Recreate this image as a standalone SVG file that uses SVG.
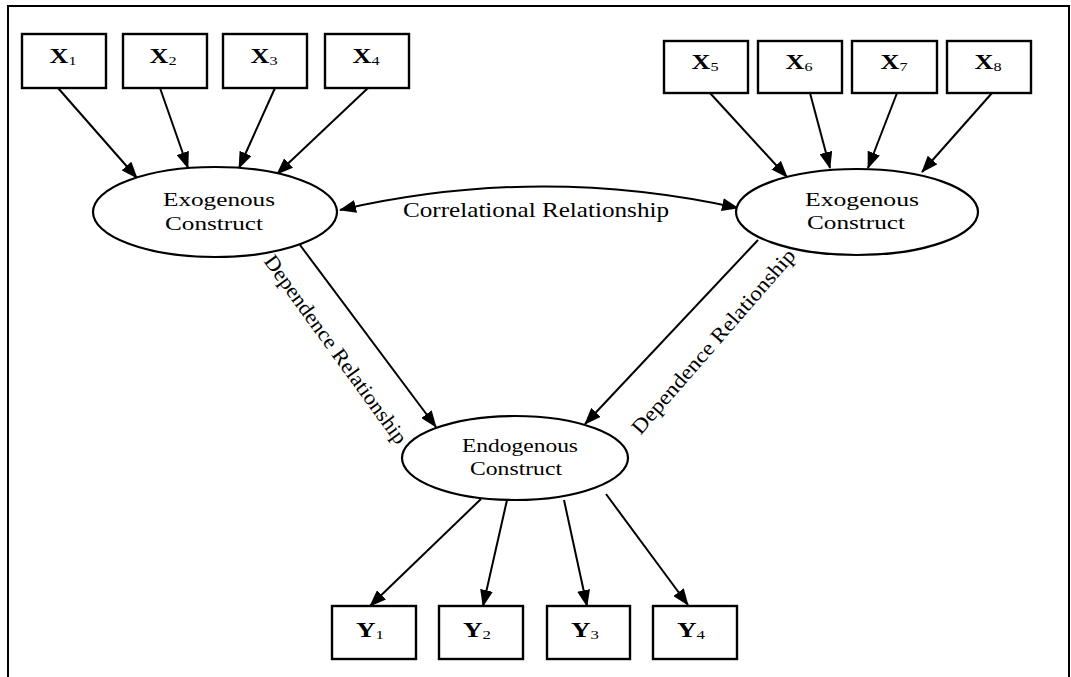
<svg xmlns="http://www.w3.org/2000/svg" width="1071" height="677" viewBox="0 0 1071 677">
  <style>
    .box { fill: #fff; stroke: #000; stroke-width: 2.4; }
    .ell { fill: #fff; stroke: #000; stroke-width: 2.2; }
    .var { font-family: "Liberation Serif", "Times New Roman", serif; font-size: 21px; font-weight: bold; fill: #000; text-anchor: middle; }
    .sub { font-size: 13px; font-weight: normal; }
    .txt { font-family: "Liberation Serif", "Times New Roman", serif; font-size: 21px; fill: #000; text-anchor: middle; }
    .con { font-size: 18.5px; }
    .edge { fill: none; stroke: #000; stroke-width: 2; }
  </style>
  <defs>
    <marker id="arrow" markerUnits="userSpaceOnUse" markerWidth="17" markerHeight="13" viewBox="0 0 17 13" refX="16" refY="6.5" orient="auto-start-reverse">
      <path d="M0,0 L17,6.5 L0,13 z" fill="#000"/>
    </marker>
  </defs>

  <rect width="1071" height="677" fill="#fff"/>
  <!-- outer frame -->
  <path d="M8,677 L8,6 L1069,6 L1069,677" fill="none" stroke="#000" stroke-width="2"/>

  <!-- connectors -->
  <g id="connectors">
    <line class="edge" x1="58" y1="88" x2="137" y2="178" marker-end="url(#arrow)"/>
    <line class="edge" x1="160" y1="88" x2="188" y2="168" marker-end="url(#arrow)"/>
    <line class="edge" x1="275" y1="88" x2="239" y2="168" marker-end="url(#arrow)"/>
    <line class="edge" x1="368" y1="88" x2="277" y2="174" marker-end="url(#arrow)"/>

    <line class="edge" x1="710" y1="93" x2="787" y2="177" marker-end="url(#arrow)"/>
    <line class="edge" x1="810" y1="93" x2="830" y2="168" marker-end="url(#arrow)"/>
    <line class="edge" x1="897" y1="93" x2="868" y2="168" marker-end="url(#arrow)"/>
    <line class="edge" x1="992" y1="93" x2="922" y2="172" marker-end="url(#arrow)"/>

    <path class="edge" d="M340,210 Q539,164 738,208" marker-start="url(#arrow)" marker-end="url(#arrow)"/>

    <line class="edge" x1="300" y1="245" x2="436" y2="427" marker-end="url(#arrow)"/>
    <line class="edge" x1="758" y1="240" x2="585" y2="424" marker-end="url(#arrow)"/>

    <line class="edge" x1="481" y1="499" x2="370" y2="606" marker-end="url(#arrow)"/>
    <line class="edge" x1="507" y1="500" x2="483" y2="606" marker-end="url(#arrow)"/>
    <line class="edge" x1="564" y1="500" x2="587" y2="606" marker-end="url(#arrow)"/>
    <line class="edge" x1="606" y1="494" x2="688" y2="605" marker-end="url(#arrow)"/>

    <text class="txt" x="536" y="217" textLength="266" lengthAdjust="spacingAndGlyphs">Correlational Relationship</text>
    <text class="txt" font-size="19" transform="translate(335,350) rotate(54)" y="6" textLength="228" lengthAdjust="spacingAndGlyphs">Dependence Relationship</text>
    <text class="txt" font-size="19" transform="translate(714,342) rotate(-49)" y="6" textLength="238" lengthAdjust="spacingAndGlyphs">Dependence Relationship</text>
  </g>

  <!-- indicator boxes, left construct -->
  <g id="x1"><rect class="box" x="22" y="34" width="84" height="54"/><text class="var" x="63" y="63" textLength="27" lengthAdjust="spacingAndGlyphs">X<tspan class="sub" dy="2">1</tspan></text></g>
  <g id="x2"><rect class="box" x="123" y="34" width="84" height="54"/><text class="var" x="163" y="63" textLength="27" lengthAdjust="spacingAndGlyphs">X<tspan class="sub" dy="2">2</tspan></text></g>
  <g id="x3"><rect class="box" x="223" y="34" width="84" height="54"/><text class="var" x="264" y="63" textLength="27" lengthAdjust="spacingAndGlyphs">X<tspan class="sub" dy="2">3</tspan></text></g>
  <g id="x4"><rect class="box" x="325" y="34" width="84" height="54"/><text class="var" x="366" y="63" textLength="27" lengthAdjust="spacingAndGlyphs">X<tspan class="sub" dy="2">4</tspan></text></g>

  <!-- indicator boxes, right construct -->
  <g id="x5"><rect class="box" x="664" y="41" width="84" height="52"/><text class="var" x="705" y="69" textLength="27" lengthAdjust="spacingAndGlyphs">X<tspan class="sub" dy="2">5</tspan></text></g>
  <g id="x6"><rect class="box" x="758" y="41" width="84" height="52"/><text class="var" x="799" y="69" textLength="27" lengthAdjust="spacingAndGlyphs">X<tspan class="sub" dy="2">6</tspan></text></g>
  <g id="x7"><rect class="box" x="852" y="41" width="85" height="52"/><text class="var" x="894" y="69" textLength="27" lengthAdjust="spacingAndGlyphs">X<tspan class="sub" dy="2">7</tspan></text></g>
  <g id="x8"><rect class="box" x="947" y="41" width="84" height="52"/><text class="var" x="988" y="69" textLength="27" lengthAdjust="spacingAndGlyphs">X<tspan class="sub" dy="2">8</tspan></text></g>

  <!-- constructs -->
  <g id="exo-left">
    <ellipse class="ell" cx="215" cy="212" rx="122" ry="45"/>
    <text class="txt con" x="219" y="206" textLength="112" lengthAdjust="spacingAndGlyphs">Exogenous</text>
    <text class="txt con" x="214" y="230" textLength="98" lengthAdjust="spacingAndGlyphs">Construct</text>
  </g>
  <g id="exo-right">
    <ellipse class="ell" cx="857" cy="212" rx="121" ry="43"/>
    <text class="txt con" x="862" y="206" textLength="114" lengthAdjust="spacingAndGlyphs">Exogenous</text>
    <text class="txt con" x="856" y="229" textLength="98" lengthAdjust="spacingAndGlyphs">Construct</text>
  </g>
  <g id="endo">
    <ellipse class="ell" cx="515" cy="458" rx="113" ry="42"/>
    <text class="txt con" x="520" y="452" textLength="116" lengthAdjust="spacingAndGlyphs">Endogenous</text>
    <text class="txt con" x="516" y="475" textLength="92" lengthAdjust="spacingAndGlyphs">Construct</text>
  </g>

  <!-- outcome boxes -->
  <g id="y1"><rect class="box" x="332" y="606" width="84" height="53"/><text class="var" x="370" y="637" textLength="28" lengthAdjust="spacingAndGlyphs">Y<tspan class="sub" dy="2">1</tspan></text></g>
  <g id="y2"><rect class="box" x="439" y="606" width="84" height="53"/><text class="var" x="477" y="637" textLength="28" lengthAdjust="spacingAndGlyphs">Y<tspan class="sub" dy="2">2</tspan></text></g>
  <g id="y3"><rect class="box" x="547" y="606" width="83" height="53"/><text class="var" x="585" y="637" textLength="28" lengthAdjust="spacingAndGlyphs">Y<tspan class="sub" dy="2">3</tspan></text></g>
  <g id="y4"><rect class="box" x="653" y="606" width="84" height="53"/><text class="var" x="691" y="637" textLength="28" lengthAdjust="spacingAndGlyphs">Y<tspan class="sub" dy="2">4</tspan></text></g>
</svg>
